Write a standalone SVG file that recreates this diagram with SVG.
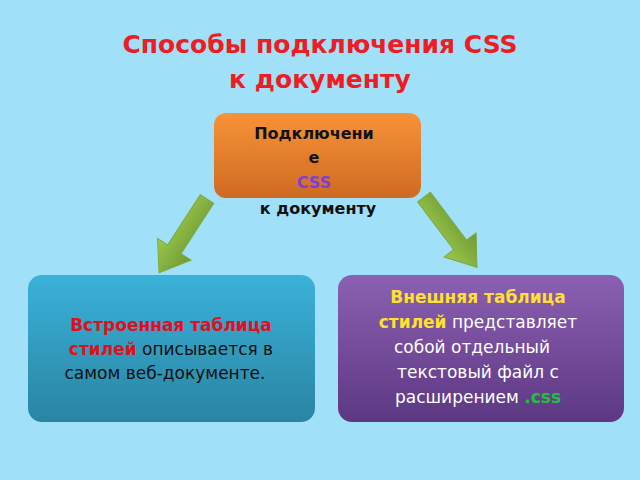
<svg xmlns="http://www.w3.org/2000/svg" width="640" height="480" viewBox="0 0 640 480">
<defs>
<linearGradient id="go" x1="0" y1="0" x2="0" y2="1"><stop offset="0" stop-color="#f89238"/><stop offset="1" stop-color="#cf6a22"/></linearGradient>
<linearGradient id="gt" x1="0" y1="0" x2="0" y2="1"><stop offset="0" stop-color="#3ab2da"/><stop offset="1" stop-color="#2984a2"/></linearGradient>
<linearGradient id="gp" x1="0" y1="0" x2="0" y2="1"><stop offset="0" stop-color="#8b60b2"/><stop offset="1" stop-color="#5c3882"/></linearGradient>
<linearGradient id="ga" x1="0" y1="0" x2="1" y2="0"><stop offset="0" stop-color="#9cc84c"/><stop offset="1" stop-color="#6e9a34"/></linearGradient>
<style>
text{font-family:"DejaVu Sans",sans-serif;text-anchor:middle}
.t{font-size:25px;font-weight:bold;fill:#ee1c25}
.h{font-size:16px;font-weight:bold;fill:#111}
.b{font-size:17px}
</style>
</defs>
<rect width="640" height="480" fill="#a0e0f8"/>
<text class="t" x="320" y="53">Способы подключения CSS</text>
<text class="t" x="320" y="88">к документу</text>
<g id="connectors">
<polygon transform="translate(207,199) rotate(33)" points="-8,0 8,0 8,60 20,60 0,88 -20,60 -8,60" fill="url(#ga)" stroke="#7fa840" stroke-width="1"/>
<polygon transform="translate(424,197) rotate(-37)" points="-8,0 8,0 8,60 20,60 0,88 -20,60 -8,60" fill="url(#ga)" stroke="#7fa840" stroke-width="1"/>
</g>
<g id="top">
<rect x="214" y="113" width="207" height="85" rx="12" fill="url(#go)"/>
<text class="h" x="314" y="139">Подключени</text>
<text class="h" x="314" y="163">е</text>
<text class="h" x="314" y="188" fill="#7a40d8" style="fill:#7a40d8">CSS</text>
<text class="h" x="318" y="214">к документу</text>
</g>
<g id="left">
<rect x="28" y="275" width="287" height="147" rx="14" fill="url(#gt)"/>
<text class="b" x="171" y="331"><tspan font-weight="bold" fill="#e01020">Встроенная таблица</tspan></text>
<text class="b" x="171" y="355" fill="#111"><tspan font-weight="bold" fill="#e01020">стилей</tspan> описывается в</text>
<text class="b" x="165" y="379" fill="#111">самом веб-документе.</text>
</g>
<g id="right">
<rect x="338" y="275" width="286" height="147" rx="14" fill="url(#gp)"/>
<text class="b" x="478" y="303" font-weight="bold" fill="#ffe030">Внешняя таблица</text>
<text class="b" x="478" y="328" fill="#fff"><tspan font-weight="bold" fill="#ffe030">стилей</tspan> представляет</text>
<text class="b" x="472" y="353" fill="#fff">собой отдельный</text>
<text class="b" x="478" y="378" fill="#fff">текстовый файл с</text>
<text class="b" x="478" y="403" fill="#fff">расширением <tspan font-weight="bold" fill="#22c040">.css</tspan></text>
</g>
</svg>
